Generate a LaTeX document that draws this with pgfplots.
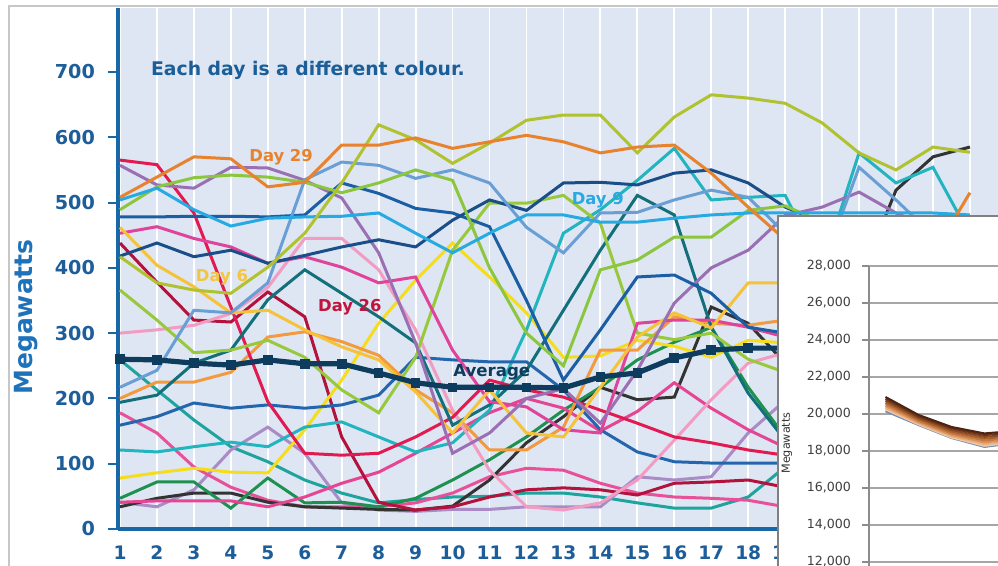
\documentclass[border=0pt]{standalone}
\usepackage{fontspec}
\setmainfont{DejaVu Sans}
\usepackage{pgfplots}
\pgfplotsset{compat=1.18}
\definecolor{bgblue}{HTML}{DDE6F2}
\definecolor{axblue}{HTML}{1868A8}
\definecolor{tickblue}{HTML}{1D5E9A}
\definecolor{ylabblue}{HTML}{1E72BA}
\definecolor{textblue}{HTML}{1B5E98}
\definecolor{c29}{HTML}{E8822C}
\definecolor{olive}{HTML}{B1C230}
\definecolor{lgreen}{HTML}{8CC63F}
\definecolor{lime}{HTML}{98C93C}
\definecolor{crimson}{HTML}{E31A51}
\definecolor{maroon}{HTML}{B3123D}
\definecolor{purp}{HTML}{9A6FB4}
\definecolor{lav}{HTML}{A98BC6}
\definecolor{day9}{HTML}{27A9E1}
\definecolor{steel}{HTML}{6A9FD5}
\definecolor{navyA}{HTML}{1C5EA4}
\definecolor{navyB}{HTML}{2466AE}
\definecolor{navyC}{HTML}{1A4E88}
\definecolor{dteal}{HTML}{13707A}
\definecolor{teal2}{HTML}{1FA39D}
\definecolor{turq}{HTML}{22B4BF}
\definecolor{pink1}{HTML}{E0449A}
\definecolor{pink2}{HTML}{E8509A}
\definecolor{pink3}{HTML}{E64593}
\definecolor{lpink}{HTML}{F29CC3}
\definecolor{yell}{HTML}{F5DD1C}
\definecolor{gold}{HTML}{F5C23A}
\definecolor{orange2}{HTML}{F29A3D}
\definecolor{dgreen}{HTML}{1E9150}
\definecolor{blackish}{HTML}{333333}
\definecolor{avg}{HTML}{0D3C5E}
\definecolor{day6lab}{HTML}{F3C544}
\definecolor{day26lab}{HTML}{C0143C}
\definecolor{bA}{HTML}{4B2412}
\definecolor{bB}{HTML}{6B3418}
\definecolor{bC}{HTML}{8B4A22}
\definecolor{bD}{HTML}{A9612F}
\definecolor{bE}{HTML}{C47A42}
\definecolor{bF}{HTML}{D9935A}
\definecolor{bG}{HTML}{EBB184}
\definecolor{bH}{HTML}{F3C8A8}
\definecolor{bI}{HTML}{6F8FB4}
\begin{document}
\begin{tikzpicture}
\useasboundingbox (0,0) rectangle (499pt,283pt);
\clip (0,0) rectangle (499pt,283pt);
\fill[white] (0,0) rectangle (499pt,283pt);
\begin{axis}[
  at={(59pt,18.5pt)}, anchor=south west,
  scale only axis, width=440pt, height=260.5pt,
  xmin=0.946, xmax=24.76, ymin=0, ymax=798,
  axis background/.style={fill=bgblue},
  axis x line*=bottom, axis y line*=left,
  axis line style={axblue, line width=2pt},
  xtick={1,...,24}, ytick={0,100,...,700},
  xmajorgrids, major grid style={draw=white, line width=0.9pt},
  x tick style={draw=none},
  y tick style={axblue, line width=1pt},
  tick align=outside, major tick length=5pt,
  yticklabel style={font=\bfseries\fontsize{9.6}{11}\selectfont, text=tickblue, xshift=-3pt},
  xticklabel style={font=\bfseries\fontsize{9.3}{11}\selectfont, text=tickblue, yshift=0pt},
  /pgf/number format/assume math mode=true,
  every axis plot/.append style={line width=1.5pt, mark=none},
]
\addplot[teal2] coordinates {(1,259)(2,213)(3,167)(4,126)(5,103)(6,75)(7,55)(8,40)(9,45)(10,49)(11,50)(12,55)(13,55)(14,49)(15,40)(16,32)(17,32)(18,49)(19,95)(20,150)};
\addplot[lav] coordinates {(1,41)(2,34)(3,60)(4,121)(5,156)(6,116)(7,40)(8,29)(9,27)(10,30)(11,30)(12,34)(13,34)(14,34)(15,80)(16,75)(17,80)(18,147)(19,197)(20,240)};
\addplot[pink2] coordinates {(1,178)(2,147)(3,95)(4,64)(5,44)(6,34)(7,34)(8,34)(9,40)(10,55)(11,80)(12,93)(13,90)(14,70)(15,55)(16,49)(17,47)(18,44)(19,34)(20,30)};
\addplot[blackish] coordinates {(1,34)(2,47)(3,55)(4,55)(5,41)(6,34)(7,32)(8,30)(9,29)(10,35)(11,75)(12,132)(13,172)(14,217)(15,198)(16,202)(17,340)(18,315)(19,254)(20,300)(21,380)(22,519)(23,570)(24,585)};
\addplot[dgreen] coordinates {(1,47)(2,72)(3,72)(4,32)(5,78)(6,40)(7,41)(8,34)(9,47)(10,75)(11,106)(12,141)(13,182)(14,217)(15,259)(16,286)(17,309)(18,217)(19,141)(20,100)};
\addplot[pink3] coordinates {(1,41)(2,43)(3,43)(4,43)(5,34)(6,49)(7,70)(8,87)(9,116)(10,147)(11,178)(12,200)(13,185)(14,150)(15,180)(16,224)(17,185)(18,152)(19,125)(20,110)};
\addplot[maroon] coordinates {(1,438)(2,378)(3,320)(4,317)(5,363)(6,325)(7,141)(8,41)(9,29)(10,34)(11,49)(12,60)(13,63)(14,60)(15,52)(16,70)(17,72)(18,75)(19,64)(20,60)};
\addplot[yell] coordinates {(1,78)(2,86)(3,93)(4,87)(5,86)(6,152)(7,228)(8,315)(9,381)(10,438)(11,386)(12,331)(13,263)(14,265)(15,289)(16,280)(17,263)(18,289)(19,285)(20,280)};
\addplot[turq] coordinates {(1,121)(2,118)(3,126)(4,133)(5,126)(6,156)(7,164)(8,141)(9,118)(10,132)(11,182)(12,305)(13,453)(14,489)(15,534)(16,583)(17,504)(18,508)(19,511)(20,400)(21,576)(22,530)(23,554)(24,450)};
\addplot[navyB] coordinates {(1,159)(2,172)(3,193)(4,185)(5,190)(6,185)(7,190)(8,205)(9,263)(10,259)(11,256)(12,256)(13,213)(14,152)(15,118)(16,103)(17,101)(18,101)(19,101)(20,100)};
\addplot[orange2] coordinates {(1,200)(2,225)(3,225)(4,240)(5,294)(6,302)(7,287)(8,266)(9,213)(10,178)(11,121)(12,121)(13,156)(14,274)(15,274)(16,325)(17,315)(18,312)(19,320)(20,320)};
\addplot[lpink] coordinates {(1,300)(2,305)(3,312)(4,330)(5,370)(6,445)(7,445)(8,397)(9,305)(10,182)(11,90)(12,34)(13,29)(14,40)(15,75)(16,136)(17,198)(18,254)(19,270)(20,280)};
\addplot[crimson] coordinates {(1,565)(2,558)(3,484)(4,340)(5,195)(6,116)(7,113)(8,116)(9,141)(10,171)(11,228)(12,213)(13,202)(14,182)(15,162)(16,141)(17,132)(18,121)(19,113)(20,105)};
\addplot[dteal] coordinates {(1,194)(2,205)(3,254)(4,274)(5,351)(6,397)(7,361)(8,325)(9,285)(10,159)(11,190)(12,243)(13,335)(14,427)(15,511)(16,481)(17,309)(18,208)(19,136)(20,100)};
\addplot[lime] coordinates {(1,366)(2,320)(3,270)(4,274)(5,289)(6,263)(7,213)(8,178)(9,263)(10,427)(11,499)(12,499)(13,511)(14,468)(15,300)(16,290)(17,300)(18,260)(19,240)(20,230)};
\addplot[pink1] coordinates {(1,453)(2,463)(3,445)(4,432)(5,407)(6,417)(7,401)(8,377)(9,386)(10,274)(11,195)(12,187)(13,152)(14,147)(15,315)(16,320)(17,320)(18,309)(19,294)(20,280)};
\addplot[gold] coordinates {(1,462)(2,404)(3,371)(4,331)(5,335)(6,305)(7,279)(8,259)(9,210)(10,147)(11,213)(12,147)(13,141)(14,217)(15,294)(16,331)(17,308)(18,377)(19,377)(20,377)};
\addplot[purp] coordinates {(1,557)(2,527)(3,522)(4,554)(5,553)(6,534)(7,507)(8,423)(9,285)(10,116)(11,147)(12,200)(13,215)(14,162)(15,243)(16,346)(17,400)(18,427)(19,480)(20,493)(21,516)(22,484)(23,460)(24,450)};
\addplot[navyA] coordinates {(1,478)(2,478)(3,479)(4,479)(5,478)(6,481)(7,530)(8,514)(9,491)(10,484)(11,463)(12,350)(13,228)(14,305)(15,386)(16,389)(17,361)(18,309)(19,300)(20,290)};
\addplot[navyC] coordinates {(1,418)(2,438)(3,417)(4,427)(5,407)(6,419)(7,432)(8,443)(9,432)(10,473)(11,504)(12,488)(13,530)(14,531)(15,527)(16,545)(17,550)(18,530)(19,493)(20,470)};
\addplot[steel] coordinates {(1,217)(2,243)(3,335)(4,331)(5,377)(6,535)(7,562)(8,557)(9,537)(10,550)(11,530)(12,462)(13,423)(14,484)(15,485)(16,504)(17,519)(18,508)(19,453)(20,400)(21,554)(22,504)(23,450)(24,420)};
\addplot[lgreen] coordinates {(1,489)(2,524)(3,538)(4,542)(5,539)(6,531)(7,515)(8,530)(9,550)(10,534)(11,400)(12,300)(13,250)(14,397)(15,412)(16,447)(17,447)(18,488)(19,495)(20,470)};
\addplot[day9] coordinates {(1,504)(2,522)(3,489)(4,464)(5,476)(6,478)(7,479)(8,484)(9,453)(10,423)(11,453)(12,481)(13,481)(14,470)(15,470)(16,476)(17,481)(18,484)(19,484)(20,484)(21,484)(22,484)(23,484)(24,481)};
\addplot[olive] coordinates {(1,417)(2,377)(3,366)(4,361)(5,401)(6,453)(7,530)(8,619)(9,596)(10,560)(11,591)(12,626)(13,634)(14,634)(15,576)(16,631)(17,665)(18,660)(19,652)(20,622)(21,576)(22,550)(23,585)(24,577)};
\addplot[c29] coordinates {(1,508)(2,539)(3,570)(4,567)(5,524)(6,531)(7,588)(8,588)(9,599)(10,583)(11,593)(12,603)(13,593)(14,576)(15,585)(16,588)(17,545)(18,493)(19,443)(20,412)(21,397)(22,400)(23,420)(24,515)};
\addplot[avg, line width=2.6pt, mark=square*, mark size=1.1pt] coordinates {(1,260)(2,259)(3,254)(4,251)(5,259)(6,253)(7,253)(8,239)(9,224)(10,217)(11,217)(12,217)(13,216)(14,233)(15,239)(16,262)(17,274)(18,277)(19,277)(20,280)};
\node[anchor=west, font=\bfseries\fontsize{9.4}{11}\selectfont, text=textblue] at (axis cs:1.65,703) {Each day is a different colour.};
\node[font=\bfseries\fontsize{8.2}{10}\selectfont, text=c29] at (axis cs:5.36,570) {Day 29};
\node[font=\bfseries\fontsize{8.2}{10}\selectfont, text=day6lab] at (axis cs:3.76,386) {Day 6};
\node[font=\bfseries\fontsize{8.2}{10}\selectfont, text=day26lab] at (axis cs:7.22,340) {Day 26};
\node[font=\bfseries\fontsize{8.2}{10}\selectfont, text=day9] at (axis cs:13.93,504) {Day 9};
\node[font=\bfseries\fontsize{8.3}{10}\selectfont, text=avg] at (axis cs:11.06,240) {Average};
\end{axis}
\node[rotate=90, font=\bfseries\fontsize{12.5}{14}\selectfont, text=ylabblue] at (13pt,124.5pt) {Megawatts};
\draw[black!22, line width=1pt] (4.5pt,-2pt) -- (4.5pt,280pt) -- (502pt,280pt);
\filldraw[fill=white, draw=black!50, line width=1pt] (389pt,-10pt) rectangle (510pt,175pt);
\begin{axis}[
  at={(434.5pt,150pt)}, anchor=north west,
  scale only axis, width=74.25pt, height=166.5pt,
  xmin=0.5, xmax=5, ymin=10000, ymax=28000,
  axis x line=none, axis y line*=left,
  axis line style={black!45, line width=1pt},
  xtick=\empty, ytick={12000,14000,...,28000},
  scaled y ticks=false,
  ymajorgrids, major grid style={draw=black!35, line width=0.8pt},
  tick align=outside, major tick length=3.5pt,
  y tick style={black!45, line width=0.8pt},
  yticklabel style={font=\fontsize{6.3}{7.5}\selectfont, text=black!75, xshift=-2pt,
    /pgf/number format/fixed, /pgf/number format/1000 sep={,}, /pgf/number format/assume math mode=true},
  every axis plot/.append style={line width=1pt, mark=none},
]
\addplot[bI] coordinates {(1,20150)(2,19400)(3,18700)(4,18220)(5,18450)};
\addplot[bH] coordinates {(1,20250)(2,19440)(3,18730)(4,18280)(5,18500)};
\addplot[bG] coordinates {(1,20320)(2,19490)(3,18790)(4,18360)(5,18560)};
\addplot[bF] coordinates {(1,20420)(2,19560)(3,18870)(4,18460)(5,18650)};
\addplot[bE] coordinates {(1,20520)(2,19630)(3,18950)(4,18560)(5,18740)};
\addplot[bD] coordinates {(1,20620)(2,19710)(3,19040)(4,18660)(5,18830)};
\addplot[bC] coordinates {(1,20720)(2,19790)(3,19130)(4,18760)(5,18920)};
\addplot[bB] coordinates {(1,20820)(2,19870)(3,19220)(4,18860)(5,19010)};
\addplot[bA] coordinates {(1,20920)(2,19950)(3,19300)(4,18950)(5,19100)};
\end{axis}
\node[rotate=90, font=\fontsize{5.6}{7}\selectfont, text=black!80] at (393.5pt,61.5pt) {Megawatts};
\end{tikzpicture}
\end{document}
